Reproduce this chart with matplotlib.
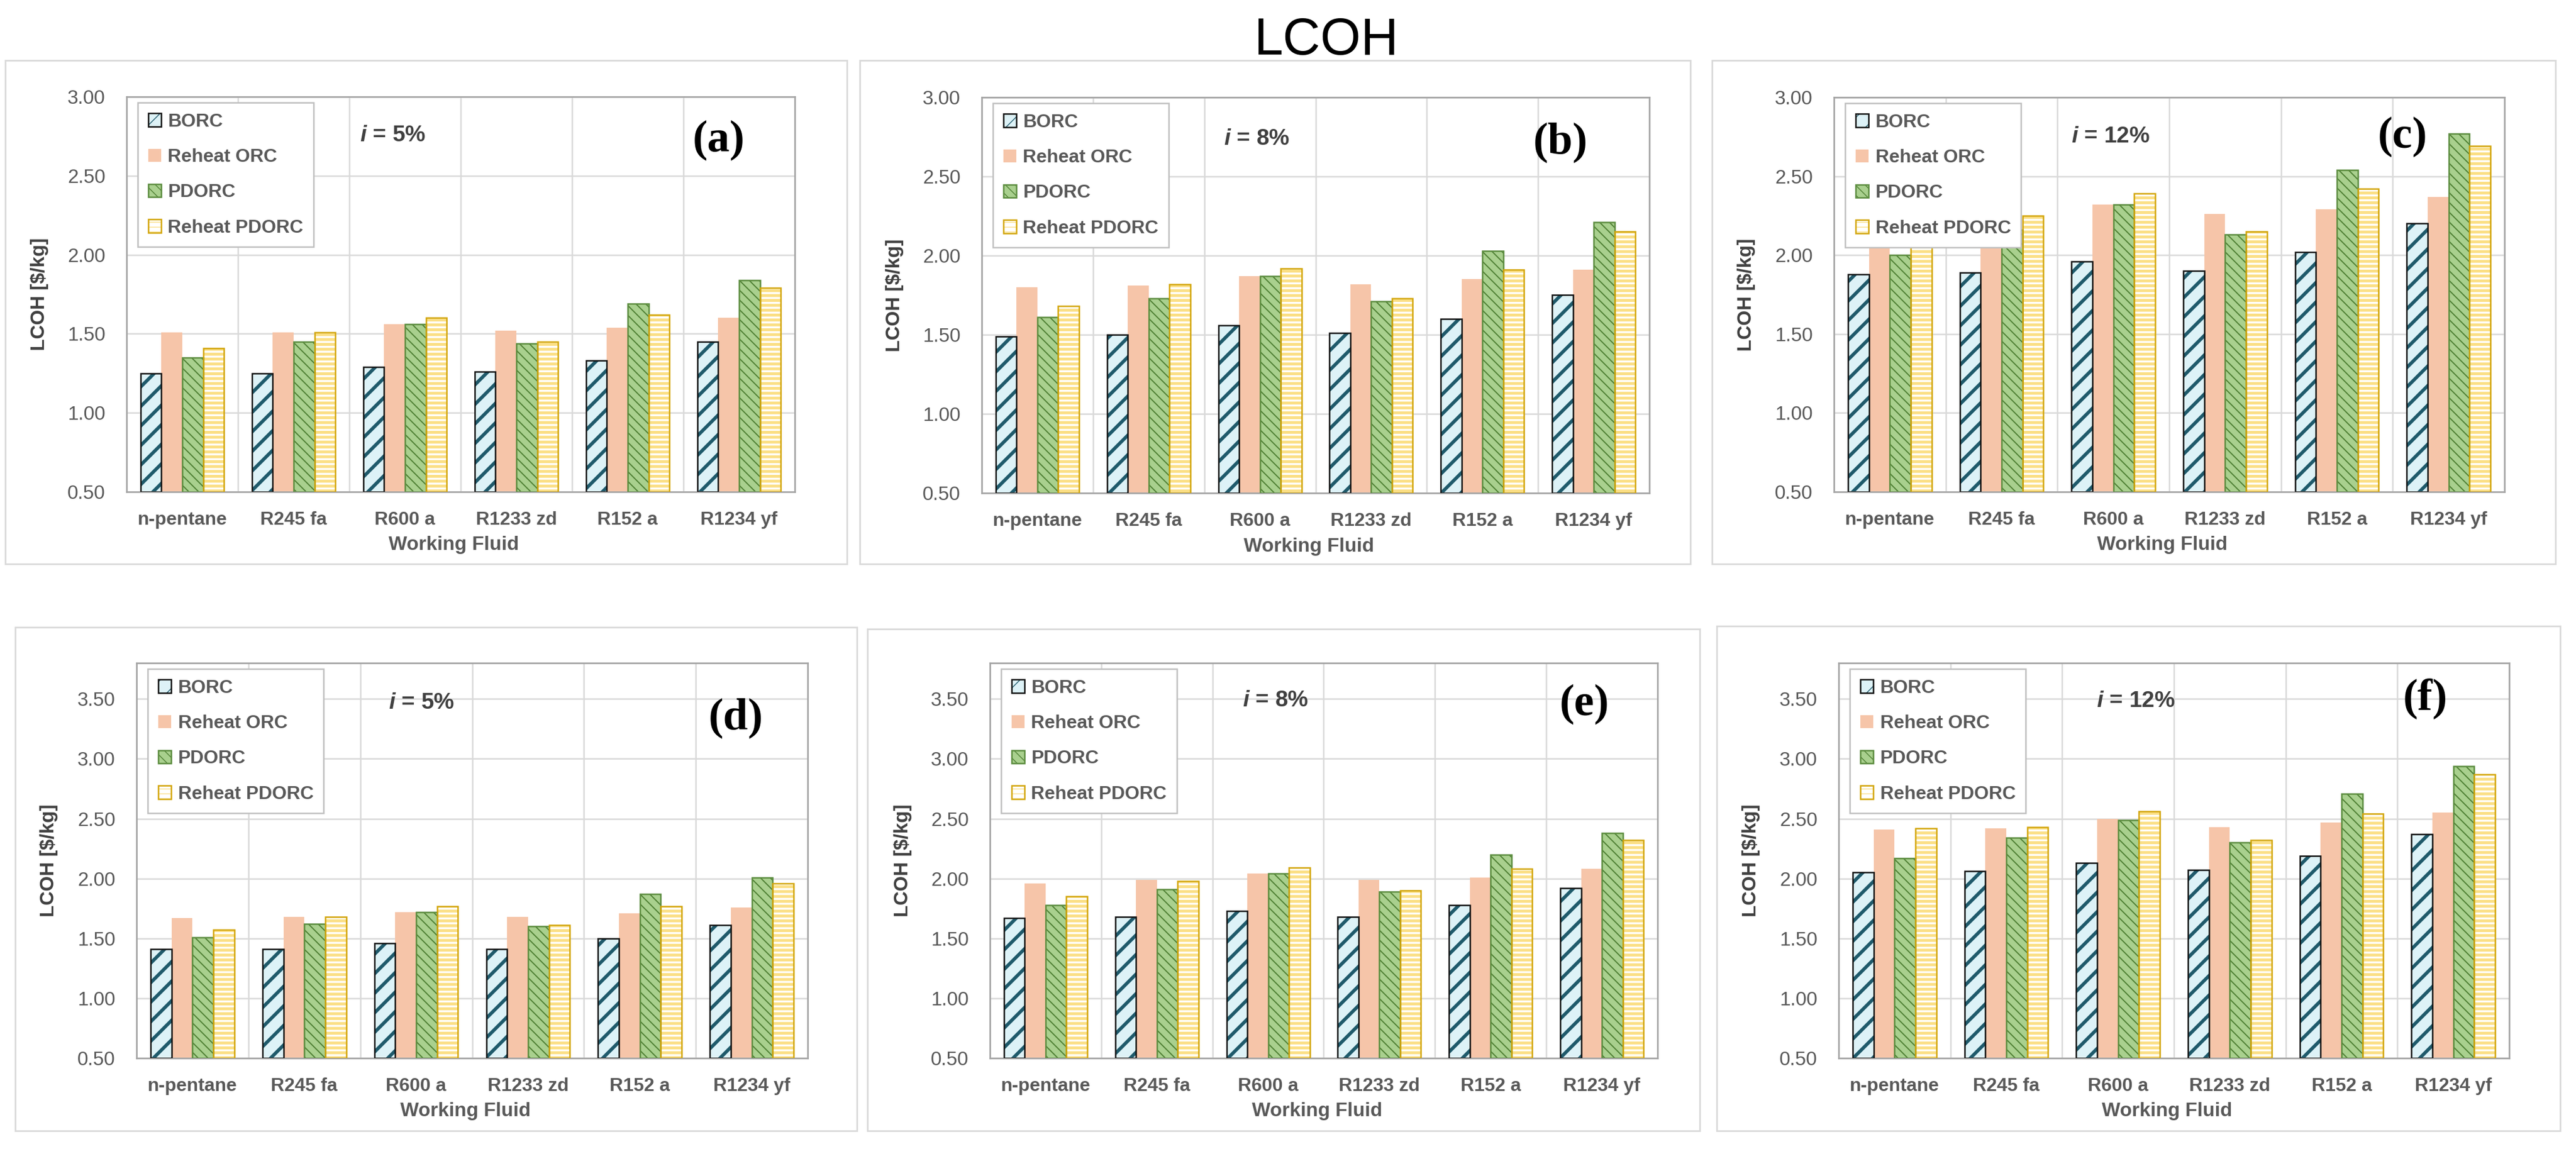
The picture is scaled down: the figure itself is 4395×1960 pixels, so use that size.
import matplotlib
matplotlib.use("Agg")
import matplotlib.pyplot as plt
from matplotlib.patches import Rectangle, Patch
import numpy as np

# ---------------- data ----------------
fluids = ["n-pentane", "R245 fa", "R600 a", "R1233 zd", "R152 a", "R1234 yf"]
series = ["BORC", "Reheat ORC", "PDORC", "Reheat PDORC"]
rates = ["5%", "8%", "12%", "5%", "8%", "12%"]
tags = ["(a)", "(b)", "(c)", "(d)", "(e)", "(f)"]
yticks_top = [0.50, 1.00, 1.50, 2.00, 2.50, 3.00]
yticks_bottom = [0.50, 1.00, 1.50, 2.00, 2.50, 3.00, 3.50]

borc_a = [1.25, 1.25, 1.29, 1.26, 1.33, 1.45]
rorc_a = [1.51, 1.51, 1.56, 1.52, 1.54, 1.60]
pdorc_a = [1.35, 1.45, 1.56, 1.44, 1.69, 1.84]
rpdorc_a = [1.41, 1.51, 1.60, 1.45, 1.62, 1.79]

borc_b = [1.49, 1.50, 1.56, 1.51, 1.60, 1.75]
rorc_b = [1.80, 1.81, 1.87, 1.82, 1.85, 1.91]
pdorc_b = [1.61, 1.73, 1.87, 1.71, 2.03, 2.21]
rpdorc_b = [1.68, 1.82, 1.92, 1.73, 1.91, 2.15]

borc_c = [1.88, 1.89, 1.96, 1.90, 2.02, 2.20]
rorc_c = [2.25, 2.26, 2.32, 2.26, 2.29, 2.37]
pdorc_c = [2.00, 2.16, 2.32, 2.13, 2.54, 2.77]
rpdorc_c = [2.23, 2.25, 2.39, 2.15, 2.42, 2.69]

borc_d = [1.41, 1.41, 1.46, 1.41, 1.50, 1.61]
rorc_d = [1.67, 1.68, 1.72, 1.68, 1.71, 1.76]
pdorc_d = [1.51, 1.62, 1.72, 1.60, 1.87, 2.01]
rpdorc_d = [1.57, 1.68, 1.77, 1.61, 1.77, 1.96]

borc_e = [1.67, 1.68, 1.73, 1.68, 1.78, 1.92]
rorc_e = [1.96, 1.99, 2.04, 1.99, 2.01, 2.08]
pdorc_e = [1.78, 1.91, 2.04, 1.89, 2.20, 2.38]
rpdorc_e = [1.85, 1.98, 2.09, 1.90, 2.08, 2.32]

borc_f = [2.05, 2.06, 2.13, 2.07, 2.19, 2.37]
rorc_f = [2.41, 2.42, 2.50, 2.43, 2.47, 2.55]
pdorc_f = [2.17, 2.34, 2.49, 2.30, 2.71, 2.94]
rpdorc_f = [2.42, 2.43, 2.56, 2.32, 2.54, 2.87]

panels = [
    [borc_a, rorc_a, pdorc_a, rpdorc_a],
    [borc_b, rorc_b, pdorc_b, rpdorc_b],
    [borc_c, rorc_c, pdorc_c, rpdorc_c],
    [borc_d, rorc_d, pdorc_d, rpdorc_d],
    [borc_e, rorc_e, pdorc_e, rpdorc_e],
    [borc_f, rorc_f, pdorc_f, rpdorc_f],
]

# ---------------- style ----------------
plt.rcParams['font.family'] = ['Liberation Sans', 'DejaVu Sans']
plt.rcParams['mathtext.fontset'] = 'custom'
plt.rcParams['mathtext.it'] = 'Liberation Sans:italic:bold'
plt.rcParams['mathtext.rm'] = 'Liberation Sans:bold'

styles = [
    dict(face='#DDF2F7', hatch='/', hcolor='#1F5A6B', hlw=4.2, edge='#111111', elw=1.8),
    dict(face='#F6C5A9', hatch=None, hcolor=None, hlw=1.0, edge=None, elw=0),
    dict(face='#A9D08E', hatch='\\\\', hcolor='#4E7F33', hlw=1.4, edge='#5B8C3E', elw=1.8),
    dict(face='#FFFFFF', hatch='--', hcolor='#FBDF85', hlw=3.6, edge='#D2A50C', elw=1.8),
]

W, H = 4395, 1960
fig = plt.figure(figsize=(W / 100, H / 100), dpi=100)
fig.patch.set_facecolor('white')

axes_px = [
    (216, 165, 1356, 839),
    (1675, 166, 2814, 841),
    (3129, 166, 4273, 839),
    (233, 1131, 1378, 1805),
    (1689, 1131, 2828, 1805),
    (3137, 1131, 4281, 1805),
]
boxes_px = [
    (9, 103, 1445, 962),
    (1467, 103, 2884, 962),
    (2921, 103, 4360, 962),
    (26, 1070, 1462, 1929),
    (1480, 1073, 2900, 1929),
    (2929, 1068, 4368, 1929),
]
rate_pos = [(0.398, 0.902), (0.412, 0.895), (0.413, 0.90),
            (0.425, 0.899), (0.428, 0.905), (0.443, 0.904)]
tag_pos = [(0.886, 0.889), (0.867, 0.886), (0.848, 0.90),
           (0.893, 0.86), (0.890, 0.895), (0.875, 0.908)]

for (x0, y0, x1, y1) in boxes_px:
    fig.add_artist(Rectangle((x0 / W, 1 - y1 / H), (x1 - x0) / W, (y1 - y0) / H,
                             transform=fig.transFigure, facecolor='none',
                             edgecolor='#D9D9D9', linewidth=2.0, zorder=0))

fig.text(2263 / W, 1 - 70 / H, "LCOH", ha='center', va='center', fontsize=64,
         color='black', family=['Liberation Sans Narrow', 'Liberation Sans', 'DejaVu Sans'])

x = np.arange(len(fluids))
bw = 0.187
offsets = [-1.5, -0.5, 0.5, 1.5]


def set_hlw(patch, lw):
    if hasattr(patch, 'set_hatch_linewidth'):
        patch.set_hatch_linewidth(lw)


for k, vals in enumerate(panels):
    x0, y0, x1, y1 = axes_px[k]
    ax = fig.add_axes([x0 / W, 1 - y1 / H, (x1 - x0) / W, (y1 - y0) / H])
    handles = []
    for s, (v, st) in enumerate(zip(vals, styles)):
        xs = x + offsets[s] * bw
        with plt.rc_context({'hatch.linewidth': st['hlw']}):
            if st['hatch']:
                bars = ax.bar(xs, np.array(v) - 0.5, bw, bottom=0.5, color=st['face'],
                              edgecolor=st['hcolor'], hatch=st['hatch'], linewidth=0, zorder=2)
                for p in bars:
                    set_hlw(p, st['hlw'])
                ax.bar(xs, np.array(v) - 0.5, bw, bottom=0.5, color='none',
                       edgecolor=st['edge'], linewidth=st['elw'], zorder=3)
                h1 = Patch(facecolor=st['face'], edgecolor=st['hcolor'], hatch=st['hatch'], linewidth=0)
                set_hlw(h1, st['hlw'])
                h2 = Patch(facecolor='none', edgecolor=st['edge'], linewidth=st['elw'])
                handles.append((h1, h2))
            else:
                ax.bar(xs, np.array(v) - 0.5, bw, bottom=0.5, color=st['face'],
                       linewidth=0, zorder=2)
                handles.append(Patch(facecolor=st['face'], linewidth=0))

    top = 3.0 if k < 3 else 3.8
    ticks = yticks_top if k < 3 else yticks_bottom
    ax.set_ylim(0.5, top)
    ax.set_xlim(-0.5, len(fluids) - 0.5)
    ax.set_yticks(ticks)
    ax.set_yticklabels([f"{t:.2f}" for t in ticks])
    ax.set_xticks(x)
    ax.set_xticklabels(fluids, fontweight='bold', color='#595959')
    ax.set_xticks(np.arange(0.5, len(fluids) - 0.5, 1), minor=True)
    ax.tick_params(axis='y', labelsize=24, labelcolor='#595959', length=0, pad=26)
    ax.tick_params(axis='x', labelsize=23, length=0, pad=24)
    ax.tick_params(which='minor', length=0)
    ax.set_axisbelow(True)
    ax.grid(axis='y', which='major', color='#D9D9D9', linewidth=1.8)
    ax.grid(axis='x', which='minor', color='#D9D9D9', linewidth=1.8)
    for sp in ax.spines.values():
        sp.set_color('#A6A6A6')
        sp.set_linewidth(2.0)

    ax.set_ylabel("LCOH [$/kg]", fontsize=24, fontweight='bold', color='#404040')
    ax.yaxis.set_label_coords(-0.117, 0.5)
    ax.set_xlabel("Working Fluid", fontsize=24, fontweight='bold', color='#595959')
    ax.xaxis.set_label_coords(0.49, -0.112)

    leg = ax.legend(handles, series, loc='upper left', bbox_to_anchor=(0.017, 0.985),
                    borderaxespad=0, fancybox=False, framealpha=1, edgecolor='#BFBFBF',
                    prop={'size': 23, 'weight': 'bold'}, labelcolor='#595959',
                    handlelength=0.7, handleheight=0.7, handletextpad=0.35,
                    labelspacing=0.95, borderpad=0.55)
    leg.get_frame().set_linewidth(1.8)
    leg.set_zorder(10)

    ax.text(rate_pos[k][0], rate_pos[k][1], f"$i$ = {rates[k]}", transform=ax.transAxes,
            ha='center', va='center', fontsize=28, fontweight='bold', color='#404040')
    ax.text(tag_pos[k][0], tag_pos[k][1], tags[k], transform=ax.transAxes,
            ha='center', va='center', fontsize=55, fontweight='bold',
            family=['Liberation Serif', 'DejaVu Serif'], color='black')

fig.savefig("out.png", dpi=100, facecolor='white')
